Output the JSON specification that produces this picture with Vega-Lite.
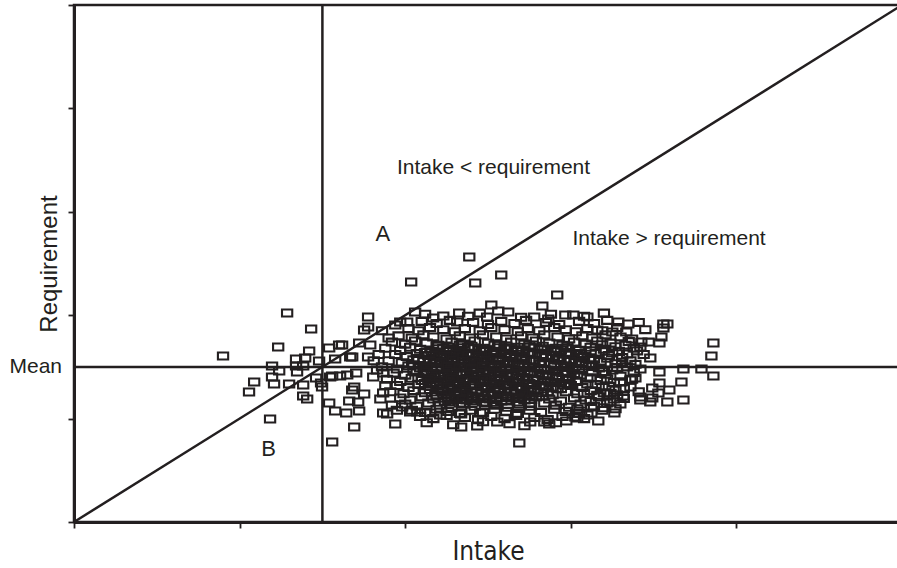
{
  "$schema": "https://vega.github.io/schema/vega-lite/v6.json",
  "width": 828,
  "height": 517,
  "autosize": {"type": "none"},
  "padding": {"left": 74, "top": 5, "right": 0, "bottom": 46},
  "background": "white",
  "view": {"stroke": "#231f20", "strokeWidth": 2.5},
  "config": {
    "axis": {"grid": false, "labels": false, "domainColor": "#231f20", "domainWidth": 3, "tickColor": "#231f20", "tickWidth": 1.8, "tickSize": 6, "titleColor": "#231f20", "titleFontWeight": "normal"}
  },
  "datasets": {
    "pts": [
      {"x":1.287,"y":2.021},{"x":1.432,"y":1.867},{"x":1.233,"y":1.692},{"x":0.900,"y":1.605},{"x":1.420,"y":1.654},{"x":1.396,"y":1.586},{"x":1.341,"y":1.576},{"x":1.480,"y":1.557},{"x":1.541,"y":1.683},{"x":1.196,"y":1.509},{"x":1.239,"y":1.460},{"x":1.341,"y":1.509},{"x":1.384,"y":1.509},{"x":1.347,"y":1.451},{"x":1.196,"y":1.402},{"x":1.088,"y":1.354},{"x":1.208,"y":1.335},{"x":1.299,"y":1.335},{"x":1.384,"y":1.325},{"x":1.057,"y":1.257},{"x":1.462,"y":1.393},{"x":1.492,"y":1.344},{"x":1.498,"y":1.306},{"x":1.384,"y":1.219},{"x":1.408,"y":1.190},{"x":1.547,"y":1.402},{"x":1.184,"y":0.996},{"x":1.541,"y":1.151},{"x":1.577,"y":1.073},{"x":1.559,"y":0.774},{"x":1.577,"y":1.576},{"x":1.601,"y":1.712},
      {"x":2.387,"y":2.563},{"x":2.580,"y":2.389},{"x":2.423,"y":2.311},{"x":2.036,"y":2.321},{"x":1.776,"y":1.983},{"x":1.776,"y":1.886},{"x":1.752,"y":1.857},{"x":1.619,"y":1.712},{"x":1.789,"y":1.712},{"x":1.722,"y":1.731},{"x":1.680,"y":1.596},{"x":1.776,"y":1.596},{"x":1.559,"y":1.412},{"x":1.650,"y":1.422},{"x":1.704,"y":1.441},{"x":1.692,"y":1.306},{"x":1.680,"y":1.277},{"x":1.752,"y":1.238},{"x":1.662,"y":1.170},{"x":1.716,"y":1.161},{"x":1.644,"y":1.054},{"x":1.722,"y":1.073},{"x":1.692,"y":0.919},{"x":1.891,"y":1.044},{"x":1.940,"y":0.948},{"x":2.338,"y":0.919},{"x":2.435,"y":0.928},{"x":2.556,"y":0.967},{"x":2.689,"y":0.764},{"x":2.520,"y":2.099},{"x":2.622,"y":2.031},{"x":2.230,"y":1.992},{"x":2.060,"y":2.031},{"x":2.326,"y":2.021},{"x":2.828,"y":2.089},
      {"x":1.668,"y":1.596},{"x":1.970,"y":1.934},{"x":2.012,"y":1.934},{"x":1.940,"y":1.905},{"x":2.169,"y":1.973},{"x":2.314,"y":1.934},{"x":1.867,"y":1.054},{"x":1.982,"y":1.112},{"x":2.030,"y":1.064},{"x":2.073,"y":1.064},{"x":2.151,"y":1.054},{"x":2.211,"y":1.035},{"x":1.867,"y":1.248},{"x":1.807,"y":1.402},{"x":1.867,"y":1.441},{"x":1.607,"y":1.412},
      {"x":2.918,"y":2.195},{"x":2.562,"y":2.041},{"x":2.495,"y":1.983},{"x":2.779,"y":1.983},{"x":2.864,"y":1.963},{"x":2.967,"y":2.002},{"x":3.015,"y":2.002},{"x":3.100,"y":1.983},{"x":3.287,"y":1.934},{"x":3.347,"y":1.915},{"x":3.559,"y":1.915},{"x":3.583,"y":1.915},{"x":3.559,"y":1.876},{"x":3.547,"y":1.789},{"x":3.535,"y":1.731},{"x":3.861,"y":1.731},{"x":3.849,"y":1.605},{"x":3.861,"y":1.412},{"x":3.680,"y":1.480},{"x":3.789,"y":1.480},{"x":3.668,"y":1.354},{"x":3.680,"y":1.180},{"x":3.583,"y":1.161},{"x":3.480,"y":1.161},{"x":3.420,"y":1.180},{"x":3.595,"y":1.277},{"x":3.535,"y":1.344},{"x":3.492,"y":1.296},{"x":3.535,"y":1.451},{"x":3.480,"y":1.586},{"x":3.426,"y":1.741},{"x":3.420,"y":1.692},{"x":3.263,"y":1.054},{"x":3.166,"y":0.977},{"x":3.124,"y":1.054},{"x":3.124,"y":1.112},{"x":3.039,"y":1.006},{"x":3.299,"y":1.141},{"x":3.239,"y":1.161},{"x":3.317,"y":1.219},{"x":3.390,"y":1.393},{"x":3.360,"y":1.373},{"x":3.335,"y":1.838},{"x":3.251,"y":1.838},{"x":3.160,"y":1.857},{"x":2.755,"y":0.967},{"x":2.840,"y":0.967},{"x":2.870,"y":0.948},{"x":2.973,"y":0.977},{"x":3.027,"y":1.015},{"x":2.453,"y":1.054},{"x":2.338,"y":1.044},{"x":3.492,"y":1.200},{"x":3.529,"y":1.248},{"x":3.420,"y":1.209},
      {"x":2.12,"y":2.01},{"x":2.38,"y":1.99},{"x":2.45,"y":2.02},{"x":2.70,"y":1.98},{"x":2.88,"y":2.01},{"x":3.08,"y":1.99},{"x":3.20,"y":2.02},
      {"x":2.10,"y":1.94},{"x":2.19,"y":1.92},{"x":2.27,"y":1.95},{"x":2.41,"y":1.93},{"x":2.50,"y":1.91},{"x":2.58,"y":1.94},{"x":2.66,"y":1.92},{"x":2.73,"y":1.95},{"x":2.85,"y":1.93},{"x":2.93,"y":1.91},{"x":3.05,"y":1.94},{"x":3.14,"y":1.92},{"x":3.22,"y":1.95},{"x":3.41,"y":1.93},
      {"x":2.02,"y":1.87},{"x":2.08,"y":1.85},{"x":2.15,"y":1.88},{"x":2.23,"y":1.86},{"x":2.30,"y":1.84},{"x":2.36,"y":1.87},{"x":2.45,"y":1.85},{"x":2.52,"y":1.88},{"x":2.60,"y":1.86},{"x":2.68,"y":1.84},{"x":2.74,"y":1.87},{"x":2.81,"y":1.85},{"x":2.90,"y":1.88},{"x":2.97,"y":1.86},{"x":3.03,"y":1.84},{"x":3.10,"y":1.87},{"x":3.19,"y":1.85},{"x":3.28,"y":1.88},{"x":3.45,"y":1.86},
      {"x":1.96,"y":1.80},{"x":2.04,"y":1.78},{"x":2.11,"y":1.81},{"x":2.17,"y":1.79},{"x":2.25,"y":1.77},{"x":2.33,"y":1.80},{"x":2.39,"y":1.78},{"x":2.47,"y":1.81},{"x":2.55,"y":1.79},{"x":2.61,"y":1.77},{"x":2.70,"y":1.80},{"x":2.77,"y":1.78},{"x":2.84,"y":1.81},{"x":2.92,"y":1.79},{"x":2.99,"y":1.77},{"x":3.07,"y":1.80},{"x":3.13,"y":1.78},{"x":3.21,"y":1.81},{"x":3.30,"y":1.79},{"x":3.37,"y":1.77},
      {"x":1.92,"y":1.74},{"x":2.00,"y":1.72},{"x":2.06,"y":1.75},{"x":2.13,"y":1.73},{"x":2.20,"y":1.71},{"x":2.28,"y":1.74},{"x":2.35,"y":1.72},{"x":2.42,"y":1.75},{"x":2.50,"y":1.73},{"x":2.57,"y":1.71},{"x":2.64,"y":1.74},{"x":2.72,"y":1.72},{"x":2.79,"y":1.75},{"x":2.87,"y":1.73},{"x":2.95,"y":1.71},{"x":3.02,"y":1.74},{"x":3.09,"y":1.72},{"x":3.16,"y":1.75},{"x":3.24,"y":1.73},{"x":3.33,"y":1.71},{"x":3.47,"y":1.74},
      {"x":1.88,"y":1.68},{"x":1.97,"y":1.66},{"x":2.03,"y":1.69},{"x":2.09,"y":1.67},{"x":2.16,"y":1.65},{"x":2.23,"y":1.68},{"x":2.31,"y":1.66},{"x":2.38,"y":1.69},{"x":2.45,"y":1.67},{"x":2.53,"y":1.65},{"x":2.60,"y":1.68},{"x":2.67,"y":1.66},{"x":2.75,"y":1.69},{"x":2.82,"y":1.67},{"x":2.90,"y":1.65},{"x":2.97,"y":1.68},{"x":3.05,"y":1.66},{"x":3.12,"y":1.69},{"x":3.20,"y":1.67},{"x":3.29,"y":1.65},{"x":3.38,"y":1.68},
      {"x":1.94,"y":1.62},{"x":2.01,"y":1.60},{"x":2.07,"y":1.63},{"x":2.14,"y":1.61},{"x":2.21,"y":1.59},{"x":2.27,"y":1.62},{"x":2.34,"y":1.60},{"x":2.41,"y":1.63},{"x":2.48,"y":1.61},{"x":2.56,"y":1.59},{"x":2.63,"y":1.62},{"x":2.70,"y":1.60},{"x":2.78,"y":1.63},{"x":2.85,"y":1.61},{"x":2.93,"y":1.59},{"x":3.00,"y":1.62},{"x":3.08,"y":1.60},{"x":3.15,"y":1.63},{"x":3.23,"y":1.61},{"x":3.31,"y":1.59},{"x":3.44,"y":1.62},
      {"x":1.90,"y":1.56},{"x":1.98,"y":1.54},{"x":2.05,"y":1.57},{"x":2.11,"y":1.55},{"x":2.18,"y":1.53},{"x":2.25,"y":1.56},{"x":2.32,"y":1.54},{"x":2.39,"y":1.57},{"x":2.46,"y":1.55},{"x":2.52,"y":1.53},{"x":2.59,"y":1.56},{"x":2.66,"y":1.54},{"x":2.73,"y":1.57},{"x":2.81,"y":1.55},{"x":2.88,"y":1.53},{"x":2.96,"y":1.56},{"x":3.03,"y":1.54},{"x":3.11,"y":1.57},{"x":3.18,"y":1.55},{"x":3.27,"y":1.53},{"x":3.36,"y":1.56},
      {"x":1.86,"y":1.50},{"x":1.95,"y":1.48},{"x":2.02,"y":1.51},{"x":2.09,"y":1.49},{"x":2.16,"y":1.47},{"x":2.22,"y":1.50},{"x":2.29,"y":1.48},{"x":2.36,"y":1.51},{"x":2.43,"y":1.49},{"x":2.50,"y":1.47},{"x":2.57,"y":1.50},{"x":2.64,"y":1.48},{"x":2.71,"y":1.51},{"x":2.78,"y":1.49},{"x":2.86,"y":1.47},{"x":2.94,"y":1.50},{"x":3.01,"y":1.48},{"x":3.09,"y":1.51},{"x":3.17,"y":1.49},{"x":3.25,"y":1.47},{"x":3.34,"y":1.50},{"x":3.42,"y":1.48},
      {"x":1.93,"y":1.44},{"x":2.00,"y":1.42},{"x":2.07,"y":1.45},{"x":2.13,"y":1.43},{"x":2.20,"y":1.41},{"x":2.27,"y":1.44},{"x":2.34,"y":1.42},{"x":2.40,"y":1.45},{"x":2.47,"y":1.43},{"x":2.54,"y":1.41},{"x":2.61,"y":1.44},{"x":2.68,"y":1.42},{"x":2.76,"y":1.45},{"x":2.83,"y":1.43},{"x":2.91,"y":1.41},{"x":2.98,"y":1.44},{"x":3.06,"y":1.42},{"x":3.13,"y":1.45},{"x":3.21,"y":1.43},{"x":3.30,"y":1.41},
      {"x":1.89,"y":1.38},{"x":1.97,"y":1.36},{"x":2.04,"y":1.39},{"x":2.10,"y":1.37},{"x":2.17,"y":1.35},{"x":2.24,"y":1.38},{"x":2.31,"y":1.36},{"x":2.38,"y":1.39},{"x":2.45,"y":1.37},{"x":2.51,"y":1.35},{"x":2.58,"y":1.38},{"x":2.65,"y":1.36},{"x":2.73,"y":1.39},{"x":2.80,"y":1.37},{"x":2.88,"y":1.35},{"x":2.95,"y":1.38},{"x":3.03,"y":1.36},{"x":3.10,"y":1.39},{"x":3.18,"y":1.37},{"x":3.26,"y":1.35},{"x":3.37,"y":1.38},
      {"x":1.95,"y":1.32},{"x":2.02,"y":1.30},{"x":2.08,"y":1.33},{"x":2.15,"y":1.31},{"x":2.22,"y":1.29},{"x":2.29,"y":1.32},{"x":2.35,"y":1.30},{"x":2.42,"y":1.33},{"x":2.49,"y":1.31},{"x":2.56,"y":1.29},{"x":2.63,"y":1.32},{"x":2.70,"y":1.30},{"x":2.77,"y":1.33},{"x":2.85,"y":1.31},{"x":2.92,"y":1.29},{"x":3.00,"y":1.32},{"x":3.07,"y":1.30},{"x":3.15,"y":1.33},{"x":3.23,"y":1.31},{"x":3.32,"y":1.29},
      {"x":1.91,"y":1.26},{"x":1.99,"y":1.24},{"x":2.05,"y":1.27},{"x":2.12,"y":1.25},{"x":2.19,"y":1.23},{"x":2.26,"y":1.26},{"x":2.33,"y":1.24},{"x":2.40,"y":1.27},{"x":2.46,"y":1.25},{"x":2.53,"y":1.23},{"x":2.60,"y":1.26},{"x":2.67,"y":1.24},{"x":2.74,"y":1.27},{"x":2.82,"y":1.25},{"x":2.89,"y":1.23},{"x":2.97,"y":1.26},{"x":3.04,"y":1.24},{"x":3.12,"y":1.27},{"x":3.20,"y":1.25},{"x":3.28,"y":1.23},{"x":3.41,"y":1.26},
      {"x":1.97,"y":1.20},{"x":2.03,"y":1.18},{"x":2.10,"y":1.21},{"x":2.17,"y":1.19},{"x":2.24,"y":1.17},{"x":2.31,"y":1.20},{"x":2.37,"y":1.18},{"x":2.44,"y":1.21},{"x":2.51,"y":1.19},{"x":2.58,"y":1.17},{"x":2.65,"y":1.20},{"x":2.72,"y":1.18},{"x":2.79,"y":1.21},{"x":2.87,"y":1.19},{"x":2.94,"y":1.17},{"x":3.02,"y":1.20},{"x":3.09,"y":1.18},{"x":3.17,"y":1.21},{"x":3.26,"y":1.19},
      {"x":2.00,"y":1.14},{"x":2.07,"y":1.12},{"x":2.14,"y":1.15},{"x":2.21,"y":1.13},{"x":2.28,"y":1.11},{"x":2.35,"y":1.14},{"x":2.42,"y":1.12},{"x":2.49,"y":1.15},{"x":2.55,"y":1.13},{"x":2.62,"y":1.11},{"x":2.69,"y":1.14},{"x":2.76,"y":1.12},{"x":2.84,"y":1.15},{"x":2.91,"y":1.13},{"x":2.99,"y":1.11},{"x":3.06,"y":1.14},{"x":3.14,"y":1.12},{"x":3.22,"y":1.15},
      {"x":2.04,"y":1.08},{"x":2.12,"y":1.06},{"x":2.19,"y":1.09},{"x":2.26,"y":1.07},{"x":2.33,"y":1.05},{"x":2.40,"y":1.08},{"x":2.47,"y":1.06},{"x":2.54,"y":1.09},{"x":2.61,"y":1.07},{"x":2.68,"y":1.05},{"x":2.75,"y":1.08},{"x":2.82,"y":1.06},{"x":2.90,"y":1.09},{"x":2.97,"y":1.07},{"x":3.05,"y":1.05},{"x":3.19,"y":1.08},
      {"x":2.09,"y":1.02},{"x":2.17,"y":1.00},{"x":2.25,"y":1.03},{"x":2.36,"y":1.01},{"x":2.44,"y":0.99},{"x":2.52,"y":1.02},{"x":2.60,"y":1.00},{"x":2.67,"y":1.03},{"x":2.78,"y":1.01},{"x":2.86,"y":0.99},{"x":2.95,"y":1.02},{"x":3.08,"y":1.00},
      {"x":2.13,"y":0.96},{"x":2.29,"y":0.94},{"x":2.47,"y":0.97},{"x":2.63,"y":0.95},{"x":2.72,"y":0.93},{"x":2.91,"y":0.96},
      {"x":2.19,"y":1.70},{"x":2.26,"y":1.69},{"x":2.33,"y":1.71},{"x":2.40,"y":1.70},{"x":2.47,"y":1.68},{"x":2.54,"y":1.71},{"x":2.61,"y":1.70},{"x":2.68,"y":1.69},{"x":2.75,"y":1.71},{"x":2.83,"y":1.70},{"x":2.91,"y":1.68},{"x":2.98,"y":1.70},
      {"x":2.12,"y":1.64},{"x":2.19,"y":1.63},{"x":2.26,"y":1.65},{"x":2.33,"y":1.64},{"x":2.40,"y":1.62},{"x":2.47,"y":1.65},{"x":2.54,"y":1.64},{"x":2.61,"y":1.63},{"x":2.68,"y":1.65},{"x":2.75,"y":1.64},{"x":2.83,"y":1.62},{"x":2.91,"y":1.65},{"x":2.99,"y":1.64},{"x":3.06,"y":1.63},
      {"x":2.08,"y":1.58},{"x":2.15,"y":1.57},{"x":2.22,"y":1.59},{"x":2.29,"y":1.58},{"x":2.36,"y":1.56},{"x":2.43,"y":1.59},{"x":2.50,"y":1.58},{"x":2.57,"y":1.57},{"x":2.64,"y":1.59},{"x":2.71,"y":1.58},{"x":2.78,"y":1.56},{"x":2.85,"y":1.59},{"x":2.92,"y":1.58},{"x":2.99,"y":1.57},{"x":3.07,"y":1.59},
      {"x":2.05,"y":1.52},{"x":2.12,"y":1.51},{"x":2.19,"y":1.53},{"x":2.26,"y":1.52},{"x":2.33,"y":1.50},{"x":2.40,"y":1.53},{"x":2.47,"y":1.52},{"x":2.54,"y":1.51},{"x":2.61,"y":1.53},{"x":2.68,"y":1.52},{"x":2.75,"y":1.50},{"x":2.82,"y":1.53},{"x":2.90,"y":1.52},{"x":2.97,"y":1.51},{"x":3.05,"y":1.53},{"x":3.13,"y":1.52},
      {"x":2.05,"y":1.46},{"x":2.12,"y":1.45},{"x":2.19,"y":1.47},{"x":2.26,"y":1.46},{"x":2.33,"y":1.44},{"x":2.40,"y":1.47},{"x":2.47,"y":1.46},{"x":2.54,"y":1.45},{"x":2.61,"y":1.47},{"x":2.68,"y":1.46},{"x":2.75,"y":1.44},{"x":2.82,"y":1.47},{"x":2.90,"y":1.46},{"x":2.97,"y":1.45},{"x":3.05,"y":1.47},
      {"x":2.08,"y":1.40},{"x":2.15,"y":1.39},{"x":2.22,"y":1.41},{"x":2.29,"y":1.40},{"x":2.36,"y":1.38},{"x":2.43,"y":1.41},{"x":2.50,"y":1.40},{"x":2.57,"y":1.39},{"x":2.64,"y":1.41},{"x":2.71,"y":1.40},{"x":2.78,"y":1.38},{"x":2.85,"y":1.41},{"x":2.92,"y":1.40},{"x":2.99,"y":1.39},
      {"x":2.12,"y":1.34},{"x":2.19,"y":1.33},{"x":2.26,"y":1.35},{"x":2.33,"y":1.34},{"x":2.40,"y":1.32},{"x":2.47,"y":1.35},{"x":2.54,"y":1.34},{"x":2.61,"y":1.33},{"x":2.68,"y":1.35},{"x":2.75,"y":1.34},{"x":2.83,"y":1.32},{"x":2.91,"y":1.35},{"x":2.99,"y":1.34},
      {"x":2.15,"y":1.28},{"x":2.22,"y":1.27},{"x":2.29,"y":1.29},{"x":2.36,"y":1.28},{"x":2.43,"y":1.26},{"x":2.50,"y":1.29},{"x":2.57,"y":1.28},{"x":2.64,"y":1.27},{"x":2.71,"y":1.29},{"x":2.78,"y":1.28},{"x":2.86,"y":1.26},{"x":2.94,"y":1.29},
      {"x":2.19,"y":1.22},{"x":2.26,"y":1.21},{"x":2.33,"y":1.23},{"x":2.40,"y":1.22},{"x":2.47,"y":1.20},{"x":2.54,"y":1.23},{"x":2.61,"y":1.22},{"x":2.68,"y":1.21},{"x":2.75,"y":1.23},{"x":2.83,"y":1.22},
      {"x":2.26,"y":1.16},{"x":2.33,"y":1.15},{"x":2.40,"y":1.17},{"x":2.47,"y":1.16},{"x":2.54,"y":1.14},{"x":2.61,"y":1.17},{"x":2.68,"y":1.16},{"x":2.75,"y":1.15},
      {"x":2.20,"y":1.675},{"x":2.27,"y":1.665},{"x":2.34,"y":1.685},{"x":2.42,"y":1.675},{"x":2.49,"y":1.665},{"x":2.56,"y":1.685},{"x":2.64,"y":1.675},{"x":2.71,"y":1.665},{"x":2.78,"y":1.685},{"x":2.86,"y":1.675},{"x":2.94,"y":1.665},
      {"x":2.17,"y":1.615},{"x":2.24,"y":1.605},{"x":2.31,"y":1.625},{"x":2.38,"y":1.615},{"x":2.45,"y":1.605},{"x":2.52,"y":1.625},{"x":2.60,"y":1.615},{"x":2.67,"y":1.605},{"x":2.74,"y":1.625},{"x":2.82,"y":1.615},{"x":2.89,"y":1.605},{"x":2.97,"y":1.625},{"x":3.04,"y":1.615},
      {"x":2.15,"y":1.555},{"x":2.22,"y":1.545},{"x":2.29,"y":1.565},{"x":2.35,"y":1.555},{"x":2.42,"y":1.545},{"x":2.49,"y":1.565},{"x":2.56,"y":1.555},{"x":2.63,"y":1.545},{"x":2.70,"y":1.565},{"x":2.77,"y":1.555},{"x":2.84,"y":1.545},{"x":2.92,"y":1.565},{"x":3.00,"y":1.555},{"x":3.07,"y":1.545},
      {"x":2.13,"y":1.495},{"x":2.19,"y":1.485},{"x":2.26,"y":1.505},{"x":2.33,"y":1.495},{"x":2.40,"y":1.485},{"x":2.47,"y":1.505},{"x":2.54,"y":1.495},{"x":2.61,"y":1.485},{"x":2.68,"y":1.505},{"x":2.75,"y":1.495},{"x":2.82,"y":1.485},{"x":2.90,"y":1.505},{"x":2.98,"y":1.495},{"x":3.05,"y":1.485},{"x":3.13,"y":1.505},
      {"x":2.17,"y":1.435},{"x":2.24,"y":1.425},{"x":2.31,"y":1.445},{"x":2.37,"y":1.435},{"x":2.44,"y":1.425},{"x":2.51,"y":1.445},{"x":2.58,"y":1.435},{"x":2.65,"y":1.425},{"x":2.72,"y":1.445},{"x":2.80,"y":1.435},{"x":2.87,"y":1.425},{"x":2.95,"y":1.445},{"x":3.02,"y":1.435},
      {"x":2.14,"y":1.375},{"x":2.21,"y":1.365},{"x":2.28,"y":1.385},{"x":2.35,"y":1.375},{"x":2.42,"y":1.365},{"x":2.48,"y":1.385},{"x":2.55,"y":1.375},{"x":2.62,"y":1.365},{"x":2.69,"y":1.385},{"x":2.77,"y":1.375},{"x":2.84,"y":1.365},{"x":2.92,"y":1.385},{"x":2.99,"y":1.375},
      {"x":2.19,"y":1.315},{"x":2.26,"y":1.305},{"x":2.32,"y":1.325},{"x":2.39,"y":1.315},{"x":2.46,"y":1.305},{"x":2.53,"y":1.325},{"x":2.60,"y":1.315},{"x":2.67,"y":1.305},{"x":2.74,"y":1.325},{"x":2.81,"y":1.315},{"x":2.89,"y":1.305},{"x":2.96,"y":1.325},
      {"x":2.23,"y":1.255},{"x":2.30,"y":1.245},{"x":2.37,"y":1.265},{"x":2.43,"y":1.255},{"x":2.50,"y":1.245},{"x":2.57,"y":1.265},{"x":2.64,"y":1.255},{"x":2.71,"y":1.245},{"x":2.78,"y":1.265},{"x":2.86,"y":1.255},
      {"x":2.28,"y":1.195},{"x":2.35,"y":1.185},{"x":2.41,"y":1.205},{"x":2.48,"y":1.195},{"x":2.55,"y":1.185},{"x":2.62,"y":1.205},{"x":2.69,"y":1.195},{"x":2.76,"y":1.185},
      {"x":3.19,"y":1.715},{"x":3.27,"y":1.695},{"x":3.35,"y":1.745},{"x":3.12,"y":1.655},{"x":3.25,"y":1.635},{"x":3.34,"y":1.625},{"x":3.40,"y":1.655},{"x":3.14,"y":1.575},{"x":3.22,"y":1.585},{"x":3.31,"y":1.545},{"x":3.39,"y":1.525},{"x":3.20,"y":1.455},{"x":3.28,"y":1.495},{"x":3.38,"y":1.445},{"x":3.12,"y":1.395},{"x":3.22,"y":1.385},{"x":3.30,"y":1.355},{"x":3.10,"y":1.335},{"x":3.19,"y":1.305},{"x":3.27,"y":1.275},{"x":3.36,"y":1.305},{"x":3.08,"y":1.245},{"x":3.16,"y":1.225},{"x":3.24,"y":1.245},{"x":3.32,"y":1.195},{"x":3.12,"y":1.165},{"x":3.20,"y":1.105},{"x":3.04,"y":1.095},{"x":3.27,"y":1.095},{"x":3.10,"y":1.035},
      {"x":1.84,"y":1.62},{"x":1.83,"y":1.47},{"x":1.88,"y":1.32},{"x":1.85,"y":1.19},{"x":1.92,"y":1.13},{"x":1.81,"y":1.56},{"x":1.90,"y":1.78},{"x":1.86,"y":1.85},{"x":1.95,"y":1.08}
    ],
    "diag": [{"x":0,"y":0},{"x":5,"y":5}],
    "ann": [
      {"x":1.95,"y":3.42,"label":"Intake < requirement","size":21},
      {"x":3.01,"y":2.74,"label":"Intake > requirement","size":21},
      {"x":1.82,"y":2.79,"label":"A","size":22},
      {"x":1.13,"y":0.71,"label":"B","size":22}
    ],
    "refs": [{"v": 1.5}]
  },
  "layer": [
    {
      "data": {"name": "diag"},
      "mark": {"type": "line", "color": "#231f20", "strokeWidth": 2.5},
      "encoding": {
        "x": {"field": "x", "type": "quantitative", "scale": {"domain": [0, 5], "nice": false, "zero": false},
              "axis": {"values": [0,1,2,3,4,5], "title": "Intake", "titleFont": "DejaVu Sans Condensed", "titleFontSize": 26, "titlePadding": 10}},
        "y": {"field": "y", "type": "quantitative", "scale": {"domain": [0, 5], "nice": false, "zero": false},
              "axis": {"values": [0,1,2,3,4,5], "title": "Requirement", "titleFont": "Liberation Sans", "titleFontSize": 24, "titlePadding": 6}}
      }
    },
    {
      "data": {"name": "refs"},
      "mark": {"type": "rule", "color": "#231f20", "strokeWidth": 2.5},
      "encoding": {"x": {"field": "v", "type": "quantitative"}}
    },
    {
      "data": {"name": "refs"},
      "mark": {"type": "rule", "color": "#231f20", "strokeWidth": 2.5},
      "encoding": {"y": {"field": "v", "type": "quantitative"}}
    },
    {
      "data": {"name": "pts"},
      "mark": {"type": "point", "shape": "M-1,-0.68L1,-0.68L1,0.68L-1,0.68Z", "size": 105, "filled": false, "stroke": "#231f20", "strokeWidth": 2.1, "opacity": 1},
      "encoding": {
        "x": {"field": "x", "type": "quantitative"},
        "y": {"field": "y", "type": "quantitative"}
      }
    },
    {
      "data": {"name": "ann"},
      "mark": {"type": "text", "align": "left", "baseline": "middle", "font": "Liberation Sans", "color": "#231f20"},
      "encoding": {
        "x": {"field": "x", "type": "quantitative"},
        "y": {"field": "y", "type": "quantitative"},
        "text": {"field": "label"},
        "size": {"field": "size", "type": "quantitative", "scale": null}
      }
    },
    {
      "data": {"values": [{"x": 0, "y": 1.5, "label": "Mean"}]},
      "mark": {"type": "text", "align": "right", "baseline": "middle", "dx": -12, "font": "Liberation Sans", "fontSize": 21, "color": "#231f20"},
      "encoding": {
        "x": {"field": "x", "type": "quantitative"},
        "y": {"field": "y", "type": "quantitative"},
        "text": {"field": "label"}
      }
    }
  ]
}
